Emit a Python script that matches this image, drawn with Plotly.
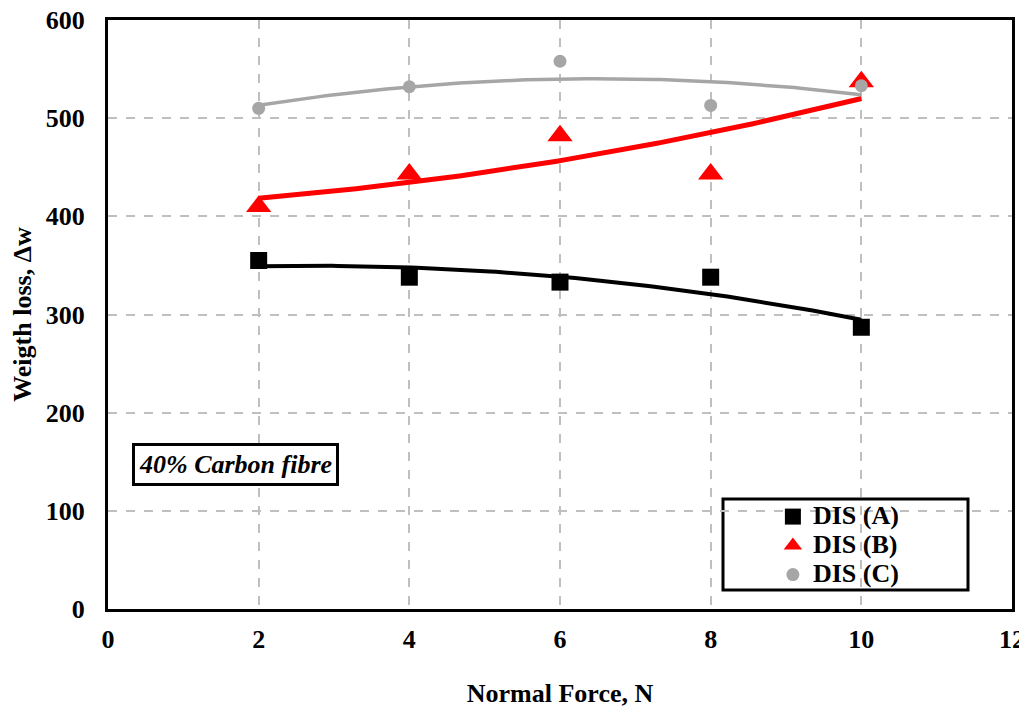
import numpy as np
import plotly.graph_objects as go

force = [2, 4, 6, 8, 10]
dis_a = [355, 338, 333, 338, 287]
dis_b = [410, 443, 482, 443, 537]
dis_c = [510, 532, 558, 513, 533]

x_ticks = [0, 2, 4, 6, 8, 10, 12]
y_ticks = [0, 100, 200, 300, 400, 500, 600]

FONT = "Liberation Serif, Times New Roman, serif"
FS = 26

series = [
    ("DIS (A)", dis_a, "black", "square", 17, 4),
    ("DIS (B)", dis_b, "#ff0000", "triangle-up", 22, 5),
    ("DIS (C)", dis_c, "#a6a6a6", "circle", 13, 3.5),
]

fig = go.Figure()
xs = np.linspace(min(force), max(force), 100)
for name, vals, color, sym, size, lw in series:
    coef = np.polyfit(force, vals, 2)
    fig.add_trace(go.Scatter(x=xs, y=np.polyval(coef, xs), mode="lines",
                             line=dict(color=color, width=lw), showlegend=False,
                             hoverinfo="skip"))
for name, vals, color, sym, size, lw in series:
    fig.add_trace(go.Scatter(x=force, y=vals, mode="markers",
                             name=f'<span style="font-size:{FS}px">{name}</span>',
                             marker=dict(symbol=sym, size=size, color=color)))

# page body has an 8px margin, so margins are offset by 8px
fig.update_layout(
    width=1027, height=711,
    margin=dict(l=100, r=23, t=12, b=110),
    paper_bgcolor="white", plot_bgcolor="white",
    font=dict(family=FONT, size=FS, color="black"),
    showlegend=True,
    legend=dict(x=0.7355, y=0.19, xanchor="left", yanchor="top",
                bgcolor="rgba(0,0,0,0)", borderwidth=0,
                font=dict(family=FONT, size=20, color="black", weight="bold"),
                itemsizing="trace", tracegroupgap=0),
)
fig.update_xaxes(range=[0, 12], tickvals=x_ticks, ticktext=[f"<b>{v}</b>" for v in x_ticks],
                 showgrid=True, gridcolor="#bfbfbf", griddash="dash", gridwidth=2,
                 showline=True, linecolor="black", linewidth=3, mirror=True,
                 zeroline=False, ticks="", ticklabelstandoff=5, automargin=False,
                 ticklabeloverflow="allow",
                 tickfont=dict(family=FONT, size=FS),
                 title=dict(text="<b>Normal Force, N</b>", standoff=31,
                            font=dict(family=FONT, size=FS)))
fig.update_yaxes(range=[0, 600], tickvals=y_ticks, ticktext=[f"<b>{v}</b>" for v in y_ticks],
                 showgrid=True, gridcolor="#bfbfbf", griddash="dash", gridwidth=2,
                 showline=True, linecolor="black", linewidth=3, mirror=True,
                 zeroline=False, ticks="", ticklabelstandoff=15, automargin=False,
                 ticklabeloverflow="allow",
                 tickfont=dict(family=FONT, size=FS),
                 title=dict(text="<b>Weigth loss, Δw</b>", standoff=22,
                            font=dict(family=FONT, size=FS)))

# legend border box
fig.add_shape(type="rect", xref="paper", yref="paper",
              x0=(723 - 108) / 904, x1=(968 - 108) / 904,
              y0=(609 - 590) / 589, y1=(609 - 499) / 589,
              line=dict(color="black", width=3), fillcolor="white", layer="below")

fig.add_annotation(x=1.69, y=147, xref="x", yref="y", showarrow=False,
                   text="<b><i>40% Carbon fibre</i></b>",
                   font=dict(family=FONT, size=FS, color="black"),
                   bordercolor="black", borderwidth=3, borderpad=4, bgcolor="white")

fig.write_html("out.html")
